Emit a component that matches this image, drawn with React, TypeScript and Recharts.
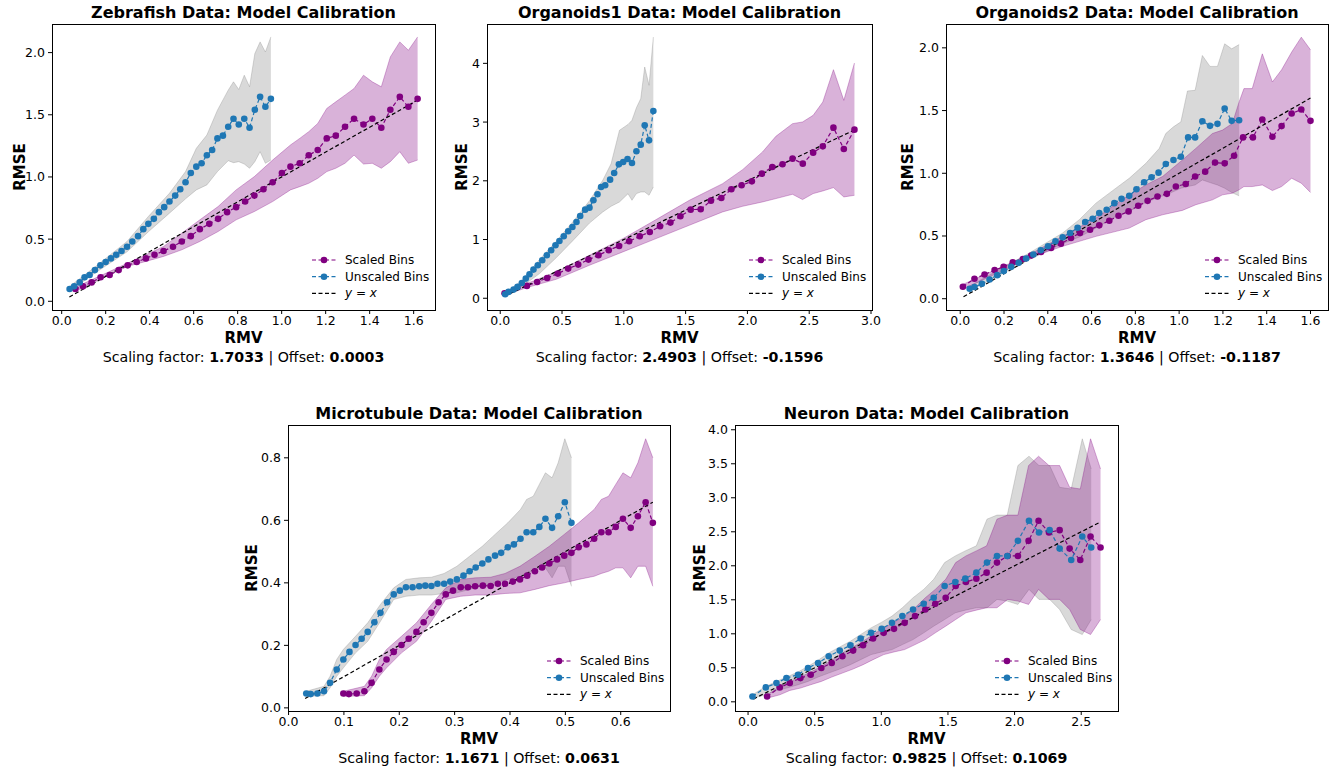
import React from "react";
import { ComposedChart, Line, Area, XAxis, YAxis } from "recharts";

const FONT = "'DejaVu Sans', Verdana, sans-serif";
const PURPLE = "#800080";
const BLUE = "#1f77b4";
const GRAY = "#808080";

// ---------- Zebrafish ----------
const zebrafishUnscaledRmv = [0.036, 0.057, 0.082, 0.104, 0.127, 0.151, 0.176, 0.2, 0.224, 0.248, 0.272, 0.297, 0.321, 0.347, 0.371, 0.394, 0.419, 0.442, 0.466, 0.49, 0.516, 0.539, 0.563, 0.587, 0.612, 0.636, 0.66, 0.684, 0.708, 0.733, 0.757, 0.781, 0.805, 0.83, 0.854, 0.878, 0.902, 0.926, 0.951];
const zebrafishScaledRmv = [0.062, 0.097, 0.136, 0.177, 0.218, 0.259, 0.3, 0.341, 0.383, 0.422, 0.463, 0.506, 0.546, 0.587, 0.628, 0.671, 0.711, 0.752, 0.793, 0.834, 0.876, 0.917, 0.959, 1.001, 1.04, 1.082, 1.123, 1.164, 1.205, 1.246, 1.288, 1.329, 1.372, 1.412, 1.453, 1.494, 1.537, 1.576, 1.618];
const zebrafishRmse = [0.099, 0.12, 0.152, 0.193, 0.211, 0.251, 0.289, 0.316, 0.345, 0.374, 0.404, 0.439, 0.481, 0.524, 0.58, 0.623, 0.663, 0.717, 0.757, 0.802, 0.85, 0.901, 0.957, 1.032, 1.083, 1.11, 1.174, 1.217, 1.31, 1.332, 1.404, 1.468, 1.422, 1.468, 1.396, 1.54, 1.644, 1.564, 1.628];
const zebrafishGrayX = [0.036, 0.151, 0.297, 0.394, 0.49, 0.563, 0.612, 0.66, 0.708, 0.757, 0.781, 0.805, 0.83, 0.854, 0.878, 0.902, 0.926, 0.951];
const zebrafishGrayHi = [0.12, 0.275, 0.481, 0.682, 0.869, 1.043, 1.23, 1.337, 1.537, 1.698, 1.765, 1.703, 1.818, 1.725, 1.992, 2.086, 2.005, 2.126];
const zebrafishGrayLo = [0.08, 0.227, 0.398, 0.559, 0.709, 0.824, 0.896, 0.936, 1.043, 1.131, 1.115, 1.123, 1.104, 1.07, 1.123, 1.203, 1.11, 1.136];
const zebrafishPurpleX = [0.062, 0.3, 0.383, 0.463, 0.546, 0.628, 0.711, 0.793, 0.876, 0.959, 1.04, 1.082, 1.123, 1.164, 1.205, 1.246, 1.288, 1.329, 1.372, 1.412, 1.453, 1.494, 1.537, 1.576, 1.618];
const zebrafishPurpleHi = [0.112, 0.307, 0.374, 0.441, 0.548, 0.655, 0.762, 0.896, 1.003, 1.136, 1.257, 1.31, 1.364, 1.43, 1.551, 1.604, 1.658, 1.711, 1.818, 1.765, 1.725, 1.965, 2.086, 2.019, 2.126];
const zebrafishPurpleLo = [0.08, 0.281, 0.321, 0.361, 0.414, 0.481, 0.561, 0.655, 0.722, 0.802, 0.896, 0.922, 0.949, 0.989, 1.043, 1.07, 1.11, 1.176, 1.104, 1.11, 1.07, 1.123, 1.203, 1.11, 1.136];

// ---------- Organoids1 ----------
const org1UnscaledRmv = [0.04, 0.067, 0.108, 0.14, 0.175, 0.207, 0.237, 0.269, 0.304, 0.34, 0.377, 0.412, 0.447, 0.479, 0.514, 0.55, 0.584, 0.617, 0.647, 0.687, 0.722, 0.754, 0.787, 0.816, 0.849, 0.889, 0.922, 0.96, 0.995, 1.03, 1.066, 1.102, 1.137, 1.169, 1.204, 1.239];
const org1UnscaledRmse = [0.068, 0.108, 0.147, 0.193, 0.261, 0.335, 0.409, 0.488, 0.562, 0.647, 0.732, 0.817, 0.902, 0.976, 1.055, 1.14, 1.214, 1.299, 1.401, 1.509, 1.543, 1.668, 1.77, 1.895, 1.923, 2.02, 2.133, 2.28, 2.32, 2.372, 2.304, 2.502, 2.616, 2.945, 2.689, 3.189];
const org1ScaledRmv = [0.035, 0.216, 0.299, 0.38, 0.466, 0.55, 0.631, 0.714, 0.795, 0.878, 0.962, 1.043, 1.129, 1.21, 1.293, 1.377, 1.458, 1.541, 1.622, 1.705, 1.789, 1.87, 1.953, 2.036, 2.117, 2.201, 2.284, 2.365, 2.448, 2.532, 2.61, 2.696, 2.78, 2.866];
const org1ScaledRmse = [0.085, 0.21, 0.278, 0.346, 0.42, 0.505, 0.573, 0.658, 0.732, 0.817, 0.891, 0.97, 1.055, 1.129, 1.226, 1.288, 1.396, 1.509, 1.515, 1.662, 1.708, 1.855, 1.923, 1.991, 2.122, 2.235, 2.281, 2.377, 2.292, 2.479, 2.587, 2.905, 2.542, 2.871];
const org1GrayX = [0.04, 0.175, 0.318, 0.453, 0.587, 0.722, 0.83, 0.897, 0.965, 1.034, 1.066, 1.102, 1.137, 1.169, 1.204, 1.239];
const org1GrayHi = [0.09, 0.3, 0.66, 0.97, 1.3, 1.66, 2.01, 2.29, 2.86, 2.96, 3.03, 3.245, 3.4, 3.938, 3.626, 4.448];
const org1GrayLo = [0.05, 0.2, 0.42, 0.69, 0.98, 1.28, 1.47, 1.566, 1.64, 1.78, 1.668, 1.782, 1.81, 1.81, 1.753, 1.895];
const org1PurpleX = [0.035, 0.216, 0.453, 0.722, 0.992, 1.261, 1.53, 1.799, 1.961, 2.122, 2.23, 2.365, 2.446, 2.532, 2.61, 2.696, 2.78, 2.866];
const org1PurpleHi = [0.108, 0.25, 0.448, 0.732, 1.015, 1.339, 1.668, 1.951, 2.19, 2.491, 2.757, 2.973, 3.002, 3.115, 3.342, 3.892, 3.37, 4.006];
const org1PurpleLo = [0.051, 0.182, 0.323, 0.562, 0.789, 1.016, 1.243, 1.47, 1.566, 1.64, 1.697, 1.77, 1.68, 1.782, 1.827, 1.884, 1.725, 1.753];

// ---------- Organoids2 ----------
const org2UnscaledRmv = [0.043, 0.065, 0.099, 0.134, 0.169, 0.199, 0.233, 0.267, 0.301, 0.334, 0.368, 0.401, 0.435, 0.468, 0.502, 0.536, 0.571, 0.605, 0.635, 0.669, 0.704, 0.737, 0.772, 0.805, 0.84, 0.874, 0.906, 0.939, 0.974, 1.008, 1.041, 1.073, 1.106, 1.141, 1.175, 1.208, 1.24, 1.274];
const org2UnscaledRmse = [0.079, 0.093, 0.119, 0.153, 0.188, 0.22, 0.254, 0.286, 0.32, 0.352, 0.386, 0.418, 0.458, 0.489, 0.524, 0.566, 0.611, 0.638, 0.683, 0.709, 0.762, 0.796, 0.82, 0.873, 0.929, 0.968, 1.005, 1.074, 1.106, 1.132, 1.286, 1.286, 1.415, 1.378, 1.394, 1.516, 1.418, 1.423];
const org2ScaledRmv = [0.012, 0.065, 0.111, 0.157, 0.198, 0.24, 0.286, 0.324, 0.369, 0.415, 0.46, 0.506, 0.547, 0.593, 0.635, 0.681, 0.723, 0.769, 0.813, 0.856, 0.901, 0.944, 0.985, 1.03, 1.073, 1.119, 1.164, 1.208, 1.251, 1.292, 1.337, 1.38, 1.426, 1.468, 1.514, 1.558, 1.6];
const org2ScaledRmse = [0.095, 0.159, 0.193, 0.228, 0.254, 0.291, 0.317, 0.344, 0.373, 0.405, 0.439, 0.484, 0.524, 0.55, 0.585, 0.622, 0.661, 0.696, 0.741, 0.78, 0.815, 0.836, 0.894, 0.915, 0.974, 1.013, 1.085, 1.079, 1.14, 1.286, 1.286, 1.429, 1.291, 1.376, 1.476, 1.508, 1.418];
const org2GrayX = [0.043, 0.316, 0.468, 0.544, 0.62, 0.711, 0.772, 0.848, 0.909, 0.939, 0.974, 1.008, 1.038, 1.073, 1.106, 1.141, 1.175, 1.208, 1.24, 1.274];
const org2GrayHi = [0.101, 0.365, 0.524, 0.63, 0.762, 0.881, 0.96, 1.079, 1.198, 1.317, 1.37, 1.41, 1.656, 1.661, 1.939, 1.852, 1.852, 2.032, 1.992, 2.026];
const org2GrayLo = [0.061, 0.312, 0.439, 0.492, 0.563, 0.656, 0.696, 0.767, 0.81, 0.828, 0.854, 0.881, 0.894, 0.907, 0.947, 0.926, 0.907, 0.881, 0.847, 0.82];
const org2PurpleX = [0.012, 0.316, 0.468, 0.62, 0.772, 0.848, 0.924, 1.015, 1.076, 1.152, 1.198, 1.243, 1.274, 1.296, 1.334, 1.38, 1.426, 1.468, 1.514, 1.558, 1.6];
const org2PurpleHi = [0.114, 0.352, 0.497, 0.643, 0.828, 0.907, 0.974, 1.106, 1.198, 1.317, 1.344, 1.397, 1.569, 1.675, 1.675, 1.952, 1.728, 1.825, 1.966, 2.085, 1.984];
const org2PurpleLo = [0.074, 0.325, 0.418, 0.497, 0.563, 0.63, 0.669, 0.704, 0.749, 0.788, 0.828, 0.841, 0.868, 0.894, 0.894, 0.907, 0.862, 0.894, 0.96, 0.921, 0.847];

// ---------- Microtubule ----------
const mtUnscaledRmv = [0.032, 0.04, 0.052, 0.064, 0.075, 0.087, 0.099, 0.11, 0.121, 0.132, 0.143, 0.155, 0.166, 0.178, 0.19, 0.201, 0.212, 0.224, 0.236, 0.247, 0.258, 0.269, 0.281, 0.292, 0.304, 0.316, 0.327, 0.338, 0.35, 0.361, 0.373, 0.384, 0.396, 0.407, 0.419, 0.43, 0.442, 0.453, 0.464, 0.476, 0.487, 0.499, 0.511];
const mtScaledRmv = [0.099, 0.109, 0.123, 0.137, 0.15, 0.164, 0.177, 0.19, 0.204, 0.217, 0.231, 0.244, 0.258, 0.271, 0.284, 0.297, 0.311, 0.324, 0.337, 0.351, 0.365, 0.378, 0.391, 0.405, 0.418, 0.431, 0.445, 0.458, 0.471, 0.485, 0.498, 0.511, 0.524, 0.538, 0.552, 0.565, 0.578, 0.591, 0.604, 0.618, 0.631, 0.645, 0.658];
const mtRmse = [0.046, 0.044, 0.046, 0.053, 0.08, 0.123, 0.155, 0.179, 0.201, 0.221, 0.243, 0.274, 0.304, 0.338, 0.363, 0.375, 0.386, 0.386, 0.389, 0.391, 0.39, 0.397, 0.397, 0.404, 0.411, 0.423, 0.437, 0.449, 0.462, 0.475, 0.487, 0.496, 0.514, 0.523, 0.541, 0.562, 0.562, 0.579, 0.605, 0.576, 0.613, 0.658, 0.592];
const mtBandUnscaledX = [0.032, 0.064, 0.075, 0.087, 0.099, 0.121, 0.143, 0.166, 0.19, 0.212, 0.236, 0.258, 0.281, 0.304, 0.327, 0.35, 0.373, 0.396, 0.419, 0.43, 0.442, 0.453, 0.464, 0.476, 0.487, 0.499, 0.511];
const mtBandScaledX = [0.099, 0.137, 0.15, 0.164, 0.177, 0.204, 0.231, 0.258, 0.284, 0.311, 0.337, 0.365, 0.391, 0.418, 0.445, 0.471, 0.498, 0.524, 0.552, 0.565, 0.578, 0.591, 0.604, 0.618, 0.631, 0.645, 0.658];
const mtBandHi = [0.053, 0.069, 0.101, 0.155, 0.187, 0.229, 0.272, 0.331, 0.384, 0.411, 0.416, 0.418, 0.43, 0.453, 0.485, 0.517, 0.555, 0.592, 0.635, 0.667, 0.677, 0.715, 0.752, 0.736, 0.784, 0.861, 0.8];
const mtBandLo = [0.037, 0.039, 0.064, 0.101, 0.128, 0.176, 0.213, 0.277, 0.347, 0.357, 0.361, 0.361, 0.366, 0.368, 0.379, 0.391, 0.4, 0.411, 0.421, 0.43, 0.437, 0.448, 0.448, 0.416, 0.453, 0.453, 0.389];

// ---------- Neuron ----------
const neuronUnscaledRmv = [0.033, 0.133, 0.213, 0.288, 0.375, 0.45, 0.525, 0.605, 0.688, 0.768, 0.845, 0.923, 1.003, 1.08, 1.158, 1.238, 1.318, 1.393, 1.475, 1.555, 1.63, 1.713, 1.793, 1.868, 1.945, 2.025, 2.108, 2.183, 2.263, 2.338, 2.425, 2.508, 2.575];
const neuronScaledRmv = [0.143, 0.238, 0.313, 0.393, 0.47, 0.55, 0.628, 0.708, 0.788, 0.863, 0.938, 1.018, 1.095, 1.175, 1.253, 1.33, 1.405, 1.483, 1.558, 1.635, 1.713, 1.79, 1.868, 1.948, 2.025, 2.105, 2.18, 2.258, 2.338, 2.413, 2.493, 2.57, 2.645];
const neuronRmse = [0.079, 0.212, 0.276, 0.349, 0.399, 0.497, 0.571, 0.669, 0.753, 0.831, 0.93, 1.014, 1.073, 1.161, 1.26, 1.358, 1.442, 1.53, 1.702, 1.761, 1.811, 1.899, 2.047, 2.145, 2.145, 2.367, 2.662, 2.49, 2.524, 2.253, 2.086, 2.431, 2.268];
const neuronBandHi = [0.103, 0.226, 0.3, 0.364, 0.438, 0.522, 0.61, 0.718, 0.807, 0.891, 0.989, 1.087, 1.171, 1.26, 1.383, 1.53, 1.653, 1.801, 2.047, 2.145, 2.219, 2.293, 2.686, 2.745, 2.745, 3.474, 3.611, 3.474, 3.474, 3.154, 3.129, 3.867, 3.424];
const neuronBandLo = [0.054, 0.103, 0.167, 0.202, 0.251, 0.3, 0.364, 0.423, 0.482, 0.546, 0.62, 0.694, 0.733, 0.768, 0.841, 0.915, 1.014, 1.112, 1.21, 1.309, 1.348, 1.383, 1.383, 1.506, 1.481, 1.432, 1.653, 1.506, 1.506, 1.358, 1.063, 0.989, 1.21];

// axis ticks
const ticks0to16 = [0, 0.2, 0.4, 0.6, 0.8, 1.0, 1.2, 1.4, 1.6];
const ticks0to2 = [0, 0.5, 1.0, 1.5, 2.0];
const ticks0to3 = [0, 0.5, 1.0, 1.5, 2.0, 2.5, 3.0];
const ticksInt0to4 = [0, 1, 2, 3, 4];
const ticks0to06 = [0, 0.1, 0.2, 0.3, 0.4, 0.5, 0.6];
const ticks0to08 = [0, 0.2, 0.4, 0.6, 0.8];
const ticks0to25 = [0, 0.5, 1.0, 1.5, 2.0, 2.5];
const ticks0to4 = [0, 0.5, 1.0, 1.5, 2.0, 2.5, 3.0, 3.5, 4.0];

const toPoints = (xs: number[], ys: number[]) => xs.map((x, i) => ({ x, y: ys[i] }));
const toBand = (xs: number[], lo: number[], hi: number[]) =>
  xs.map((x, i) => ({ x, range: [lo[i], hi[i]] }));

const Y_W = 45;
const X_H = 25;
const PAD_T = 12;
const PAD_R = 16;

const dotFor = (color: string) => (p: any) =>
  <circle key={`d-${p.index}`} cx={p.cx} cy={p.cy} r={3.3} fill={color} stroke="none" />;

function LegendBox({ right, bottom }: { right: number; bottom: number }) {
  const rows = [
    { label: "Scaled Bins", color: PURPLE, marker: true },
    { label: "Unscaled Bins", color: BLUE, marker: true },
    { label: "yx", color: "#000", marker: false },
  ];
  return (
    <svg
      width={125}
      height={50}
      style={{ position: "absolute", left: right - 123, top: bottom - 58, overflow: "visible" }}
    >
      {rows.map((r, i) => {
        const cy = 8 + i * 16.7;
        return (
          <g key={r.label}>
            <line x1={0} x2={26} y1={cy} y2={cy} stroke={r.color} strokeWidth={1.2} strokeDasharray="4 2.5" />
            {r.marker && <circle cx={12} cy={cy} r={3.3} fill={r.color} />}
            <text x={33} y={cy} dominantBaseline="central" fontSize={12} fontFamily={FONT} fill="#000">
              {r.label === "yx" ? (
                <>
                  <tspan fontStyle="italic">y</tspan>
                  <tspan> = </tspan>
                  <tspan fontStyle="italic">x</tspan>
                </>
              ) : (
                r.label
              )}
            </text>
          </g>
        );
      })}
    </svg>
  );
}

type PanelProps = {
  title: string;
  factor: string;
  offset: string;
  box: [number, number, number, number];
  rmseX: number;
  xDomain: [number, number];
  xTicks: number[];
  xDec: number;
  yDomain: [number, number];
  yTicks: number[];
  yDec: number;
  scaled: { x: number; y: number }[];
  unscaled: { x: number; y: number }[];
  scaledBand: { x: number; range: number[] }[];
  unscaledBand: { x: number; range: number[] }[];
  identity: [number, number];
};

function Panel(p: PanelProps) {
  const [L, T, R, B] = p.box;
  const cx = (L + R) / 2;
  const cy = (T + B) / 2;
  const tickStyle = { fill: "#000", fontSize: 12.5, fontFamily: FONT };
  const identityLine = [
    { x: p.identity[0], y: p.identity[0] },
    { x: p.identity[1], y: p.identity[1] },
  ];
  const center = (x: number, y: number): React.CSSProperties => ({
    position: "absolute",
    left: x,
    top: y,
    transform: "translate(-50%, -50%)",
    whiteSpace: "nowrap",
    fontFamily: FONT,
    color: "#000",
    lineHeight: 1,
  });
  return (
    <>
      <div style={{ ...center(cx, T - 11), fontSize: 16, fontWeight: "bold" }}>{p.title}</div>
      <div style={{ position: "absolute", left: L - Y_W, top: T - PAD_T }}>
        <ComposedChart
          width={R - L + Y_W + PAD_R}
          height={B - T + X_H + PAD_T}
          margin={{ top: PAD_T, right: PAD_R, bottom: 0, left: 0 }}
        >
          <XAxis
            type="number"
            dataKey="x"
            domain={p.xDomain}
            ticks={p.xTicks}
            allowDataOverflow
            interval={0}
            height={X_H}
            tickSize={4}
            tickMargin={2}
            axisLine={false}
            tickLine={{ stroke: "#000" }}
            tick={tickStyle}
            tickFormatter={(v: number) => v.toFixed(p.xDec)}
          />
          <YAxis
            type="number"
            domain={p.yDomain}
            ticks={p.yTicks}
            allowDataOverflow
            interval={0}
            width={Y_W}
            tickSize={4}
            tickMargin={3}
            axisLine={false}
            tickLine={{ stroke: "#000" }}
            tick={tickStyle}
            tickFormatter={(v: number) => v.toFixed(p.yDec)}
          />
          <Area
            data={p.unscaledBand}
            dataKey="range"
            type="linear"
            fill={GRAY}
            fillOpacity={0.3}
            stroke={GRAY}
            strokeOpacity={0.3}
            strokeWidth={1}
            dot={false}
            activeDot={false}
            isAnimationActive={false}
          />
          <Area
            data={p.scaledBand}
            dataKey="range"
            type="linear"
            fill={PURPLE}
            fillOpacity={0.3}
            stroke={PURPLE}
            strokeOpacity={0.3}
            strokeWidth={1}
            dot={false}
            activeDot={false}
            isAnimationActive={false}
          />
          <Line
            data={p.scaled}
            dataKey="y"
            type="linear"
            stroke={PURPLE}
            strokeWidth={1.2}
            strokeDasharray="4 2.5"
            dot={dotFor(PURPLE)}
            activeDot={false}
            isAnimationActive={false}
          />
          <Line
            data={p.unscaled}
            dataKey="y"
            type="linear"
            stroke={BLUE}
            strokeWidth={1.2}
            strokeDasharray="4 2.5"
            dot={dotFor(BLUE)}
            activeDot={false}
            isAnimationActive={false}
          />
          <Line
            data={identityLine}
            dataKey="y"
            type="linear"
            stroke="#000"
            strokeWidth={1.2}
            strokeDasharray="4 2.5"
            dot={false}
            activeDot={false}
            isAnimationActive={false}
          />
        </ComposedChart>
      </div>
      <div
        style={{
          position: "absolute",
          left: L,
          top: T,
          width: R - L + 1,
          height: B - T + 1,
          border: "1px solid #000",
          boxSizing: "border-box",
          pointerEvents: "none",
        }}
      />
      <LegendBox right={R} bottom={B} />
      <div style={{ ...center(p.rmseX, cy), fontSize: 15, fontWeight: "bold", transform: "translate(-50%, -50%) rotate(-90deg)" }}>
        RMSE
      </div>
      <div style={{ ...center(cx, B + 28), fontSize: 15, fontWeight: "bold" }}>RMV</div>
      <div style={{ ...center(cx, B + 47), fontSize: 14.2 }}>
        Scaling factor: <b>{p.factor}</b> | Offset: <b>{p.offset}</b>
      </div>
    </>
  );
}

export default function App() {
  return (
    <div style={{ position: "absolute", left: 0, top: 0, width: 1336, height: 774, background: "#fff", overflow: "hidden" }}>
      <Panel
        title="Zebrafish Data: Model Calibration"
        factor="1.7033"
        offset="0.0003"
        box={[52, 24, 435, 310]}
        rmseX={20}
        xDomain={[-0.044, 1.697]}
        xTicks={ticks0to16}
        xDec={1}
        yDomain={[-0.07, 2.23]}
        yTicks={ticks0to2}
        yDec={1}
        scaled={toPoints(zebrafishScaledRmv, zebrafishRmse)}
        unscaled={toPoints(zebrafishUnscaledRmv, zebrafishRmse)}
        scaledBand={toBand(zebrafishPurpleX, zebrafishPurpleLo, zebrafishPurpleHi)}
        unscaledBand={toBand(zebrafishGrayX, zebrafishGrayLo, zebrafishGrayHi)}
        identity={[0.035, 1.62]}
      />
      <Panel
        title="Organoids1 Data: Model Calibration"
        factor="2.4903"
        offset="-0.1596"
        box={[487, 24, 872, 310]}
        rmseX={462}
        xDomain={[-0.107, 3.008]}
        xTicks={ticks0to3}
        xDec={1}
        yDomain={[-0.2, 4.67]}
        yTicks={ticksInt0to4}
        yDec={0}
        scaled={toPoints(org1ScaledRmv, org1ScaledRmse)}
        unscaled={toPoints(org1UnscaledRmv, org1UnscaledRmse)}
        scaledBand={toBand(org1PurpleX, org1PurpleLo, org1PurpleHi)}
        unscaledBand={toBand(org1GrayX, org1GrayLo, org1GrayHi)}
        identity={[0.035, 2.866]}
      />
      <Panel
        title="Organoids2 Data: Model Calibration"
        factor="1.3646"
        offset="-0.1187"
        box={[946, 24, 1328, 310]}
        rmseX={908}
        xDomain={[-0.065, 1.68]}
        xTicks={ticks0to16}
        xDec={1}
        yDomain={[-0.09, 2.19]}
        yTicks={ticks0to2}
        yDec={1}
        scaled={toPoints(org2ScaledRmv, org2ScaledRmse)}
        unscaled={toPoints(org2UnscaledRmv, org2UnscaledRmse)}
        scaledBand={toBand(org2PurpleX, org2PurpleLo, org2PurpleHi)}
        unscaledBand={toBand(org2GrayX, org2GrayLo, org2GrayHi)}
        identity={[0.015, 1.6]}
      />
      <Panel
        title="Microtubule Data: Model Calibration"
        factor="1.1671"
        offset="0.0631"
        box={[288, 425, 670, 711]}
        rmseX={252}
        xDomain={[-0.001, 0.689]}
        xTicks={ticks0to06}
        xDec={1}
        yDomain={[-0.01, 0.905]}
        yTicks={ticks0to08}
        yDec={1}
        scaled={toPoints(mtScaledRmv, mtRmse)}
        unscaled={toPoints(mtUnscaledRmv, mtRmse)}
        scaledBand={toBand(mtBandScaledX, mtBandLo, mtBandHi)}
        unscaledBand={toBand(mtBandUnscaledX, mtBandLo, mtBandHi)}
        identity={[0.03, 0.658]}
      />
      <Panel
        title="Neuron Data: Model Calibration"
        factor="0.9825"
        offset="0.1069"
        box={[735, 425, 1118, 711]}
        rmseX={700}
        xDomain={[-0.098, 2.776]}
        xTicks={ticks0to25}
        xDec={1}
        yDomain={[-0.135, 4.07]}
        yTicks={ticks0to4}
        yDec={1}
        scaled={toPoints(neuronScaledRmv, neuronRmse)}
        unscaled={toPoints(neuronUnscaledRmv, neuronRmse)}
        scaledBand={toBand(neuronScaledRmv, neuronBandLo, neuronBandHi)}
        unscaledBand={toBand(neuronUnscaledRmv, neuronBandLo, neuronBandHi)}
        identity={[0.04, 2.645]}
      />
    </div>
  );
}
